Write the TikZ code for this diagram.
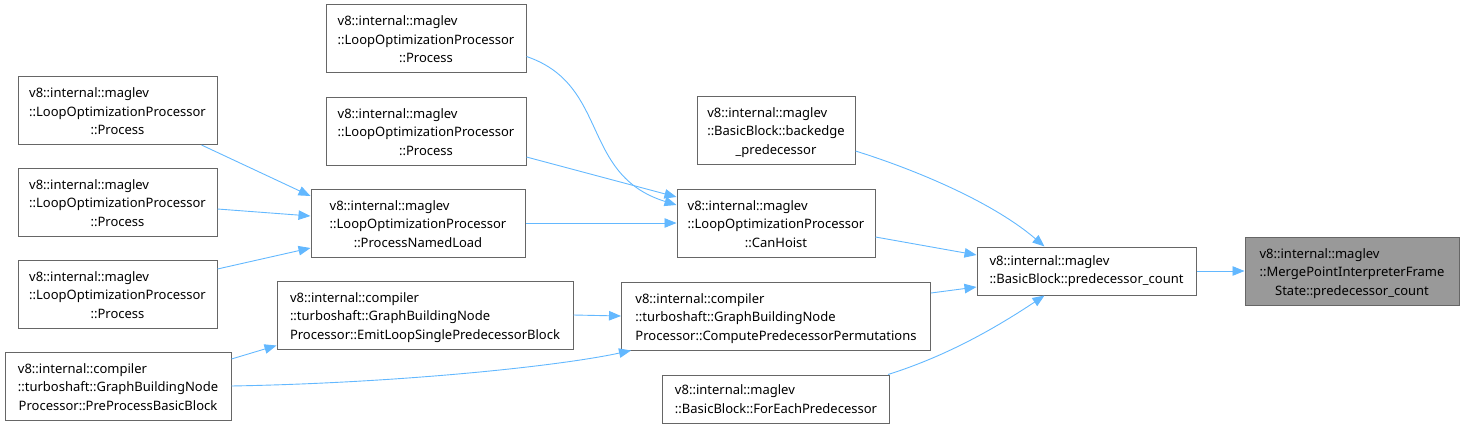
\documentclass[tikz,border=0pt]{standalone}
\usepackage{fontspec}
\setmainfont{Noto Sans}
\usepackage{xcolor}
\usepackage{tikz}
\usetikzlibrary{arrows.meta,positioning}

\definecolor{edgeblue}{HTML}{63B8FF}
\definecolor{framegray}{HTML}{666666}
\definecolor{focusgray}{HTML}{999999}
% three-line doxygen label: first lines left, last one centred
\newcommand{\fnlabel}[3]{\begin{tabular}{@{}l@{}}\rule{0pt}{17pt}#1\\#2\\\multicolumn{1}{@{}c@{}}{#3}\end{tabular}}

\begin{document}
\begin{tikzpicture}[
  x=1pt, y=-1pt,
  box/.style={draw=framegray, line width=1pt, fill=white, inner sep=0pt, minimum height=68pt, align=left, font=\fontsize{13}{18.5}\selectfont},
  small/.style={minimum height=48pt},
  arr/.style={-{Triangle[length=12pt,width=9.5pt]}, draw=edgeblue, line width=0.9pt}
]
  \useasboundingbox (0,0) rectangle (1464,428);

  \node[box, minimum width=214pt, fill=focusgray] (mp) at (1352,271) {\fnlabel{v8::internal::maglev}{::MergePointInterpreterFrame}{State::predecessor\_count}};
  \node[box, small, minimum width=219pt, left=48pt of mp] (predcount) {v8::internal::maglev\\::BasicBlock::predecessor\_count};

  \node[box, minimum width=198pt] (canhoist) at (776,223) {\fnlabel{v8::internal::maglev}{::LoopOptimizationProcessor}{::CanHoist}};
  \node[box, minimum width=158pt, above=24pt of canhoist] (backedge) {\fnlabel{v8::internal::maglev}{::BasicBlock::backedge}{\_predecessor}};
  \node[box, minimum width=309pt, below=24pt of canhoist] (permute) {\fnlabel{v8::internal::compiler}{::turboshaft::GraphBuildingNode}{Processor::ComputePredecessorPermutations}};
  \node[box, small, minimum width=227pt, below=24pt of permute] (foreach) {v8::internal::maglev\\::BasicBlock::ForEachPredecessor};

  \node[box, minimum width=200pt] (procA) at (426,38.5) {\fnlabel{v8::internal::maglev}{::LoopOptimizationProcessor}{::Process}};
  \node[box, minimum width=200pt] (procB) at (426,131) {\fnlabel{v8::internal::maglev}{::LoopOptimizationProcessor}{::Process}};
  \node[box, minimum width=214pt, left=151pt of canhoist] (namedload) {\fnlabel{v8::internal::maglev}{::LoopOptimizationProcessor}{::ProcessNamedLoad}};
  \node[box, minimum width=296pt] (emitloop) at (425,315) {\fnlabel{v8::internal::compiler}{::turboshaft::GraphBuildingNode}{Processor::EmitLoopSinglePredecessorBlock}};

  \node[box, minimum width=199pt] (procC) at (117.5,110.5) {\fnlabel{v8::internal::maglev}{::LoopOptimizationProcessor}{::Process}};
  \node[box, minimum width=199pt] (procD) at (117.5,202) {\fnlabel{v8::internal::maglev}{::LoopOptimizationProcessor}{::Process}};
  \node[box, minimum width=199pt] (procE) at (117.5,294) {\fnlabel{v8::internal::maglev}{::LoopOptimizationProcessor}{::Process}};
  \node[box, minimum width=226pt] (preproc) at (118,386) {\fnlabel{v8::internal::compiler}{::turboshaft::GraphBuildingNode}{Processor::PreProcessBasicBlock}};

  % callers -> callees
  \draw[arr] (predcount.east) -- (predcount.east -| mp.west);
  \draw[arr] ([yshift=-21pt]backedge.east) .. controls (910,168) and (990,200) .. ([xshift=-42pt]predcount.north);
  \draw[arr] ([yshift=-14pt]canhoist.east) -- ([yshift=16pt]predcount.west);
  \draw[arr] ([yshift=23pt]permute.east) -- ([yshift=-16pt]predcount.west);
  \draw[arr] ([xshift=-2pt]foreach.north east) .. controls (950,355) and (1000,325) .. ([xshift=-42pt]predcount.south);

  \draw[arr] ([yshift=-18pt]procA.east) .. controls (610,85) and (580,175) .. ([yshift=18pt]canhoist.west);
  \draw[arr] ([yshift=-26pt]procB.east) -- ([yshift=26pt]canhoist.west);
  \draw[arr] (namedload.east) -- (canhoist.west);
  \draw[arr] (emitloop.east) -- (permute.west);
  \draw[arr] (preproc.east) .. controls (400,383) and (560,366) .. ([xshift=10pt]permute.south west);

  \draw[arr] ([xshift=-16pt]procC.south east) -- ([yshift=27pt]namedload.west);
  \draw[arr] ([yshift=-7pt]procD.east) -- ([yshift=7pt]namedload.west);
  \draw[arr] ([yshift=25pt]procE.east) -- ([yshift=-25pt]namedload.west);
  \draw[arr] ([yshift=27pt]preproc.east) -- ([yshift=4pt]emitloop.south west);
\end{tikzpicture}
\end{document}
